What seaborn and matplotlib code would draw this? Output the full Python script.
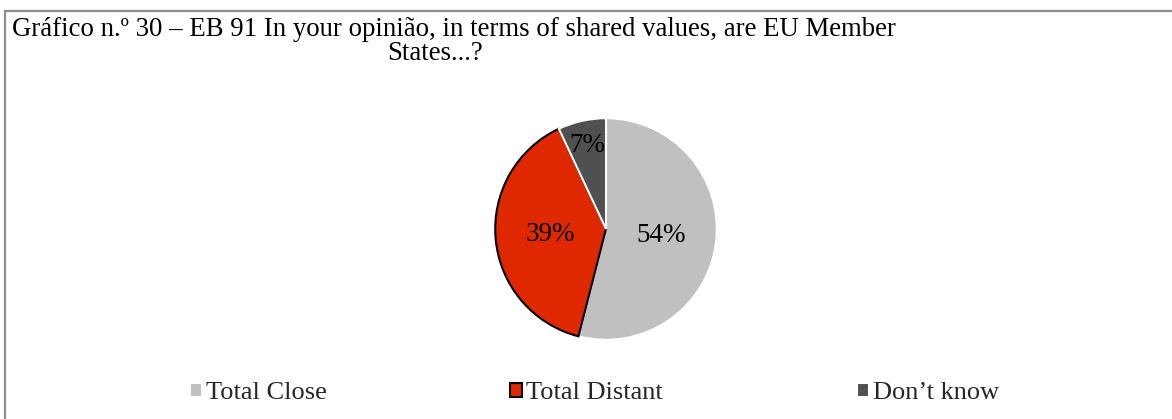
import matplotlib
matplotlib.use("Agg")
import matplotlib.pyplot as plt
import seaborn as sns
import numpy as np
from matplotlib.lines import Line2D

categories = ["Total Close", "Total Distant", "Don\u2019t know"]
shares = [54, 39, 7]
colors = ["#c0c0c0", "#e02800", "#505050"]
edge_colors = ["white", "black", "white"]
label_radius = [0.5, 0.5, 0.77]

title_line1 = "Gr\u00e1fico n.\u00ba 30 \u2013 EB 91 In your opini\u00e3o, in terms of shared values, are EU Member"
title_line2 = "States...?"

sns.set_theme(style="white")
plt.rcParams["font.family"] = ["Liberation Serif", "DejaVu Serif"]

W, H = 1172, 419
fig = plt.figure(figsize=(W / 100, H / 100), dpi=100)
fig.patch.set_facecolor("white")

# frame around the chart (top and left edges)
frame_color = "#8c8c8c"
fig.add_artist(Line2D([5 / W, 1.0], [1 - 11 / H, 1 - 11 / H], color=frame_color, lw=1.6,
                      transform=fig.transFigure))
fig.add_artist(Line2D([5 / W, 5 / W], [0.0, 1 - 11 / H], color=frame_color, lw=1.6,
                      transform=fig.transFigure))

fig.text(12 / W, 1 - 29 / H, title_line1, ha="left", va="center", fontsize=19.3, color="black")
fig.text(435 / W, 1 - 53 / H, title_line2, ha="center", va="center", fontsize=19.3, color="black")

# pie
cx, cy, r = 606, 229, 113
ax = fig.add_axes([(cx - r) / W, 1 - (cy + r) / H, 2 * r / W, 2 * r / H])
wedges, _ = ax.pie(shares, colors=colors, startangle=90, counterclock=False,
                   wedgeprops=dict(linewidth=1.5))
for w, ec in zip(wedges, edge_colors):
    w.set_edgecolor(ec)
ax.set_xlim(-1.02, 1.02)
ax.set_ylim(-1.02, 1.02)
ax.axis("off")

for w, v, d in zip(wedges, shares, label_radius):
    ang = np.deg2rad((w.theta1 + w.theta2) / 2)
    ax.text(d * np.cos(ang), d * np.sin(ang), f"{v}%", ha="center", va="center",
            fontsize=19.5, color="black")

# legend entries
legend_x = [190, 510, 857]
for w, name, x in zip(wedges, categories, legend_x):
    fig.legend([w], [name], loc="center left", bbox_to_anchor=(x / W, 1 - 393 / H),
               frameon=False, fontsize=19, handlelength=0.45, handleheight=0.45,
               handletextpad=0.15, borderpad=0, borderaxespad=0)

fig.savefig("out.png", dpi=100, facecolor="white")
